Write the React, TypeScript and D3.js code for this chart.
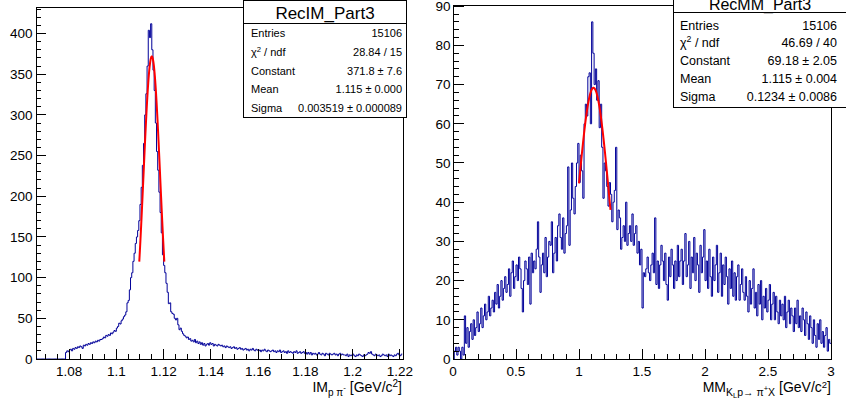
import React from 'react';
import * as d3 from 'd3';

const FONT = '"Liberation Sans", Arial, Helvetica, sans-serif';
const HIST_COLOR = '#000099';
const FIT_COLOR = '#ff0000';

// ---------------- Left panel data ----------------
const leftTitle = 'RecIM_Part3';
const leftBinStart = 1.066;
const leftBinWidth = 0.0005;
const leftCounts = [
  0,0,0,0,0,0,0,0,0,0,0,0,0,0,0,0,0,0,0,0,0,0,0,0,0,
  8,10,9,11,12,10,13,12,14,13,15,14,16,15,13,17,16,18,17,19,18,20,19,21,20,22,21,23,22,24,
  24,25,27,26,29,28,30,29,32,31,33,35,34,38,40,44,43,47,49,52,54,58,69,72,85,100,106,120,130,142,
  150,158,170,190,211,238,265,300,326,360,404,395,412,380,355,330,290,255,232,205,180,155,128,115,106,
  93,82,68,69,58,56,55,50,48,50,42,36,38,34,31,29,28,26,27,24,25,22,23,21,24,20,22,19,21,18,20,17,19,16,18,
  19,17,20,18,19,16,18,17,16,18,17,
  16,17,15,16,14,16,15,14,15,13,14,15,13,14,12,
  13,14,12,13,11,12,13,11,12,10,12,11,13,11,10,12,11,10,11,9,11,10,12,10,9,11,10,9,10,11,
  9,10,8,10,9,11,8,9,10,8,9,7,10,8,9,8,7,9,8,10,7,8,9,7,8,9,7,8,6,8,
  6,8,5,7,6,7,5,6,8,6,5,7,6,4,7,6,5,7,6,5,6,7,5,6,4,6,7,5,6,5,
  5,4,6,3,5,4,5,6,4,3,5,4,6,5,4,3,5,4,5,6,8,7,9,6,5,4,6,5,4,5,3,4,6,5,4,5,3,6,4,5,4,3,5,4,6,7,5,4,6
];
const leftXDomain = [1.066, 1.2213];
const leftYMax = 432.6;
const leftXMajor = [1.08, 1.1, 1.12, 1.14, 1.16, 1.18, 1.2, 1.22];
const leftXLabels = ['1.08', '1.1', '1.12', '1.14', '1.16', '1.18', '1.2', '1.22'];
const leftYMajor = [0, 50, 100, 150, 200, 250, 300, 350, 400];
const leftYLabels = ['0', '50', '100', '150', '200', '250', '300', '350', '400'];
const leftStatLabels = ['Entries', 'χ² / ndf', 'Constant', 'Mean', 'Sigma'];
const leftStatValues = ['15106', '28.84 / 15', '371.8 ± 7.6', '1.115 ± 0.000', '0.003519 ± 0.000089'];
const leftFitParams = [371.8, 1.115, 0.003519];
const leftFitRange = [1.1097, 1.1203];

// ---------------- Right panel data ----------------
const rightTitle = 'RecMM_Part3';
const rightBinStart = 0;
const rightBinWidth = 0.01;
const rightCounts = [
  0,2,3,1,3,2,0,3,1,11,
  4,8,3,7,9,5,10,6,8,12,7,
  9,13,8,11,14,10,12,16,11,13,
  15,12,17,14,19,13,16,20,15,18,
  21,17,19,23,16,22,25,18,21,24,20,26,
  23,18,12,20,25,23,19,26,14,27,
  22,25,23,28,35,26,17,24,27,22,
  31,21,26,30,29,35,22,27,31,25,
  34,37,31,28,36,27,32,34,49,29,
  38,50,41,37,44,50,55,45,52,48,
  41,60,65,62,72,73,60,86,78,70,
  74,66,71,59,65,54,41,50,48,44,
  39,45,42,35,40,43,54,33,38,36,
  28,31,34,30,40,29,32,34,30,37,
  29,32,34,27,30,24,28,13,22,21,
  23,26,22,20,24,27,22,36,19,25,
  18,24,29,25,20,27,19,15,26,21,
  28,24,18,25,20,29,21,25,
  28,19,25,32,21,24,30,18,26,22,31,20,27,24,17,29,22,26,33,20,
  25,18,28,21,16,26,20,24,29,17,22,27,16,24,19,26,21,14,23,18,25,16,22,15,21,24,15,19,23,17,
  15,21,16,12,20,14,18,23,13,17,11,19,14,20,10,16,13,18,12,15,19,10,14,17,10,16,12,9,15,11,
  14,10,16,8,12,15,9,13,11,7,13,9,15,8,11,7,13,10,6,12,
  9,5,11,8,4,10,6,3,9,5,10,4,7,3,6,8,2,5,4
];
const rightXDomain = [0, 3];
const rightYMax = 90.3;
const rightXMajor = [0, 0.5, 1, 1.5, 2, 2.5, 3];
const rightXLabels = ['0', '0.5', '1', '1.5', '2', '2.5', '3'];
const rightYMajor = [0, 10, 20, 30, 40, 50, 60, 70, 80, 90];
const rightYLabels = ['0', '10', '20', '30', '40', '50', '60', '70', '80', '90'];
const rightStatLabels = ['Entries', 'χ² / ndf', 'Constant', 'Mean', 'Sigma'];
const rightStatValues = ['15106', '46.69 / 40', '69.18 ± 2.05', '1.115 ± 0.004', '0.1234 ± 0.0086'];
const rightFitParams = [69.18, 1.115, 0.1234];
const rightFitRange = [1.0, 1.25];

type Frame = { x0: number; x1: number; y0: number; y1: number };

function StatLabel({ text, fs }: { text: string; fs: number }) {
  if (text.includes('²')) {
    const [a, b] = text.split('²');
    return (
      <>
        <tspan>{a}</tspan>
        <tspan dy={-fs * 0.4} fontSize={fs * 0.7}>2</tspan>
        <tspan dy={fs * 0.4}>{b}</tspan>
      </>
    );
  }
  return <>{text}</>;
}

function StatsBox(props: {
  x: number; y: number; w: number; h: number; divY: number;
  title: string; titleFs: number; titleY: number; titleX: number;
  labels: string[]; values: string[]; fs: number; firstY: number; step: number;
  labelX: number; valueX: number;
}) {
  const p = props;
  return (
    <g fontFamily={FONT} fill="#000">
      <rect x={p.x} y={p.y} width={p.w} height={p.h} fill="#fff" stroke="#000" strokeWidth={1} shapeRendering="crispEdges" />
      <line x1={p.x} x2={p.x + p.w} y1={p.divY} y2={p.divY} stroke="#000" strokeWidth={1} shapeRendering="crispEdges" />
      <text x={p.titleX} y={p.titleY} fontSize={p.titleFs} textAnchor="middle">{p.title}</text>
      {p.labels.map((l, i) => (
        <text key={'l' + i} x={p.labelX} y={p.firstY + i * p.step} fontSize={p.fs}>
          <StatLabel text={l} fs={p.fs} />
        </text>
      ))}
      {p.values.map((v, i) => (
        <text key={'v' + i} x={p.valueX} y={p.firstY + i * p.step} fontSize={p.fs} textAnchor="end">{v}</text>
      ))}
    </g>
  );
}

function Panel(props: {
  frame: Frame; xDomain: number[]; yMax: number;
  binStart: number; binWidth: number; counts: number[];
  xMajor: number[]; xLabels: string[]; xMinorStart: number; xMinorStep: number;
  yMajor: number[]; yLabels: string[]; yMinorStep: number;
  fitParams: number[]; fitRange: number[];
  yMajLen: number; yMinLen: number; xMajLen: number; xMinLen: number;
  yLabelX: number; tickFs: number; xLabelY: number;
}) {
  const p = props;
  const f = p.frame;
  const xs = d3.scaleLinear().domain(p.xDomain).range([f.x0, f.x1]);
  const ys = d3.scaleLinear().domain([0, p.yMax]).range([f.y1, f.y0]);

  const pts: [number, number][] = [];
  p.counts.forEach((c, i) => {
    pts.push([p.binStart + i * p.binWidth, c]);
    pts.push([p.binStart + (i + 1) * p.binWidth, c]);
  });
  const line = d3.line<[number, number]>().x(d => xs(d[0])).y(d => ys(d[1]));
  const histD = line(pts) || '';

  const [C, m, s] = p.fitParams;
  const n = 200;
  const fitPts: [number, number][] = d3.range(n + 1).map(k => {
    const v = p.fitRange[0] + (k * (p.fitRange[1] - p.fitRange[0])) / n;
    return [v, C * Math.exp(-0.5 * ((v - m) / s) ** 2)];
  });
  const fitD = line(fitPts) || '';

  const xMinor = d3.range(p.xMinorStart, p.xDomain[1] + 1e-9, p.xMinorStep);
  const yMinor = d3.range(0, p.yMax + 1e-9, p.yMinorStep);

  return (
    <g>
      <path d={histD} fill="none" stroke={HIST_COLOR} strokeWidth={1} />
      <path d={fitD} fill="none" stroke={FIT_COLOR} strokeWidth={2} />
      <g stroke="#000" strokeWidth={1} shapeRendering="crispEdges">
        <rect x={f.x0} y={f.y0} width={f.x1 - f.x0} height={f.y1 - f.y0} fill="none" />
        {yMinor.map((v, i) => (
          <line key={'ym' + i} x1={f.x0} x2={f.x0 + p.yMinLen} y1={ys(v)} y2={ys(v)} />
        ))}
        {p.yMajor.map((v, i) => (
          <line key={'yM' + i} x1={f.x0} x2={f.x0 + p.yMajLen} y1={ys(v)} y2={ys(v)} />
        ))}
        {xMinor.map((v, i) => (
          <line key={'xm' + i} x1={xs(v)} x2={xs(v)} y1={f.y1} y2={f.y1 - p.xMinLen} />
        ))}
        {p.xMajor.map((v, i) => (
          <line key={'xM' + i} x1={xs(v)} x2={xs(v)} y1={f.y1} y2={f.y1 - p.xMajLen} />
        ))}
      </g>
      <g fontFamily={FONT} fontSize={p.tickFs} fill="#000">
        {p.yMajor.map((v, i) => (
          <text key={'yl' + i} x={p.yLabelX} y={ys(v) + p.tickFs * 0.36} textAnchor="end">{p.yLabels[i]}</text>
        ))}
        {p.xMajor.map((v, i) => (
          <text key={'xl' + i} x={xs(v)} y={p.xLabelY} textAnchor="middle">{p.xLabels[i]}</text>
        ))}
      </g>
    </g>
  );
}

export default function App() {
  return (
    <svg width={846} height={400} viewBox="0 0 846 400" style={{ position: 'absolute', left: 0, top: 0, background: '#fff' }}>
      <rect x={0} y={0} width={846} height={400} fill="#fff" />
      <Panel
        frame={{ x0: 36, x1: 403, y0: 7, y1: 359 }}
        xDomain={leftXDomain} yMax={leftYMax}
        binStart={leftBinStart} binWidth={leftBinWidth} counts={leftCounts}
        xMajor={leftXMajor} xLabels={leftXLabels} xMinorStart={1.07} xMinorStep={0.005}
        yMajor={leftYMajor} yLabels={leftYLabels} yMinorStep={10}
        fitParams={leftFitParams} fitRange={leftFitRange}
        yMajLen={10} yMinLen={5} xMajLen={10} xMinLen={5}
        yLabelX={32.5} tickFs={13.5} xLabelY={376}
      />
      <Panel
        frame={{ x0: 453, x1: 831, y0: 5, y1: 359 }}
        xDomain={rightXDomain} yMax={rightYMax}
        binStart={rightBinStart} binWidth={rightBinWidth} counts={rightCounts}
        xMajor={rightXMajor} xLabels={rightXLabels} xMinorStart={0} xMinorStep={0.1}
        yMajor={rightYMajor} yLabels={rightYLabels} yMinorStep={2}
        fitParams={rightFitParams} fitRange={rightFitRange}
        yMajLen={11} yMinLen={6} xMajLen={10} xMinLen={5}
        yLabelX={450.5} tickFs={13.5} xLabelY={376}
      />
      {/* axis titles */}
      <text x={402} y={392} fontFamily={FONT} fontSize={14} textAnchor="end" fill="#000">
        <tspan>IM</tspan>
        <tspan dy={4} fontSize={10}>p π</tspan>
        <tspan dy={-6} fontSize={8}>-</tspan>
        <tspan dy={2} fontSize={14}> [GeV/c</tspan>
        <tspan dy={-5} fontSize={10}>2</tspan>
        <tspan dy={5} fontSize={14}>]</tspan>
      </text>
      <text x={831} y={392} fontFamily={FONT} fontSize={14} textAnchor="end" fill="#000">
        <tspan>MM</tspan>
        <tspan dy={4} fontSize={10.5}>K</tspan>
        <tspan dy={2} fontSize={7.5}>L</tspan>
        <tspan dy={-2} fontSize={10.5}>p→ π</tspan>
        <tspan dy={-5} fontSize={7.5}>+</tspan>
        <tspan dy={5} fontSize={10.5}>X</tspan>
        <tspan dy={-4} fontSize={14}> [GeV/c</tspan>
        <tspan dy={-4} fontSize={9.5}>2</tspan>
        <tspan dy={4} fontSize={14}>]</tspan>
      </text>
      <StatsBox
        x={243} y={0.5} w={163} h={117} divY={23}
        title={leftTitle} titleFs={17} titleY={18.5} titleX={325}
        labels={leftStatLabels} values={leftStatValues} fs={11} firstY={37.3} step={18.6}
        labelX={251} valueX={402}
      />
      <StatsBox
        x={673} y={-10} w={174} h={117} divY={12}
        title={rightTitle} titleFs={16} titleY={10} titleX={760}
        labels={rightStatLabels} values={rightStatValues} fs={12.5} firstY={29.5} step={17.9}
        labelX={680} valueX={837}
      />
    </svg>
  );
}
